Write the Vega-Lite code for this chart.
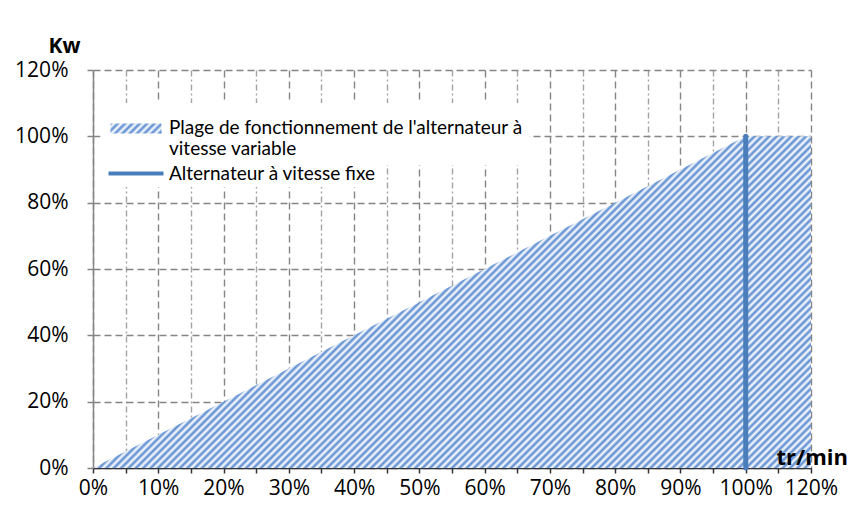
{
  "$schema": "https://vega.github.io/schema/vega-lite/v6.json",
  "width": 718,
  "height": 398,
  "autosize": "none",
  "padding": {"left": 93, "top": 70, "right": 38, "bottom": 40},
  "background": "white",
  "config": {"view": {"stroke": null}, "font": "Open Sans"},
  "resolve": {"axis": {"x": "independent"}},
  "datasets": {
    "plage": [
      {"vitesse": "0%", "i": 0, "puissance": 0, "serie": "Plage de fonctionnement de l'alternateur à vitesse variable"},
      {"vitesse": "10%", "i": 1, "puissance": 0.1, "serie": "Plage de fonctionnement de l'alternateur à vitesse variable"},
      {"vitesse": "20%", "i": 2, "puissance": 0.2, "serie": "Plage de fonctionnement de l'alternateur à vitesse variable"},
      {"vitesse": "30%", "i": 3, "puissance": 0.3, "serie": "Plage de fonctionnement de l'alternateur à vitesse variable"},
      {"vitesse": "40%", "i": 4, "puissance": 0.4, "serie": "Plage de fonctionnement de l'alternateur à vitesse variable"},
      {"vitesse": "50%", "i": 5, "puissance": 0.5, "serie": "Plage de fonctionnement de l'alternateur à vitesse variable"},
      {"vitesse": "60%", "i": 6, "puissance": 0.6, "serie": "Plage de fonctionnement de l'alternateur à vitesse variable"},
      {"vitesse": "70%", "i": 7, "puissance": 0.7, "serie": "Plage de fonctionnement de l'alternateur à vitesse variable"},
      {"vitesse": "80%", "i": 8, "puissance": 0.8, "serie": "Plage de fonctionnement de l'alternateur à vitesse variable"},
      {"vitesse": "90%", "i": 9, "puissance": 0.9, "serie": "Plage de fonctionnement de l'alternateur à vitesse variable"},
      {"vitesse": "100%", "i": 10, "puissance": 1.0, "serie": "Plage de fonctionnement de l'alternateur à vitesse variable"},
      {"vitesse": "120%", "i": 11, "puissance": 1.0, "serie": "Plage de fonctionnement de l'alternateur à vitesse variable"}
    ],
    "fixe": [
      {"vitesse": "100%", "i": 10, "bas": 0, "haut": 1.0, "serie": "Alternateur à vitesse fixe"}
    ]
  },
  "layer": [
    {
      "data": {"name": "plage"},
      "mark": {
        "type": "area",
        "opacity": 1,
        "fill": {
          "gradient": "linear", "x1": 0, "y1": 0, "x2": 1.205, "y2": 0.557,
          "stops": [
            {"offset":0,"color":"#5889cf"},{"offset":0.0035,"color":"#fff"},{"offset":0.007,"color":"#5889cf"},{"offset":0.0105,"color":"#fff"},{"offset":0.014,"color":"#5889cf"},{"offset":0.0175,"color":"#fff"},{"offset":0.021,"color":"#5889cf"},{"offset":0.0245,"color":"#fff"},{"offset":0.028,"color":"#5889cf"},{"offset":0.0315,"color":"#fff"},
            {"offset":0.035,"color":"#5889cf"},{"offset":0.0385,"color":"#fff"},{"offset":0.042,"color":"#5889cf"},{"offset":0.0455,"color":"#fff"},{"offset":0.049,"color":"#5889cf"},{"offset":0.0525,"color":"#fff"},{"offset":0.056,"color":"#5889cf"},{"offset":0.0595,"color":"#fff"},{"offset":0.063,"color":"#5889cf"},{"offset":0.0665,"color":"#fff"},
            {"offset":0.07,"color":"#5889cf"},{"offset":0.0735,"color":"#fff"},{"offset":0.077,"color":"#5889cf"},{"offset":0.0805,"color":"#fff"},{"offset":0.084,"color":"#5889cf"},{"offset":0.0875,"color":"#fff"},{"offset":0.091,"color":"#5889cf"},{"offset":0.0945,"color":"#fff"},{"offset":0.098,"color":"#5889cf"},{"offset":0.1015,"color":"#fff"},
            {"offset":0.105,"color":"#5889cf"},{"offset":0.1085,"color":"#fff"},{"offset":0.112,"color":"#5889cf"},{"offset":0.1155,"color":"#fff"},{"offset":0.119,"color":"#5889cf"},{"offset":0.1225,"color":"#fff"},{"offset":0.126,"color":"#5889cf"},{"offset":0.1295,"color":"#fff"},{"offset":0.133,"color":"#5889cf"},{"offset":0.1365,"color":"#fff"},
            {"offset":0.14,"color":"#5889cf"},{"offset":0.1435,"color":"#fff"},{"offset":0.147,"color":"#5889cf"},{"offset":0.1505,"color":"#fff"},{"offset":0.154,"color":"#5889cf"},{"offset":0.1575,"color":"#fff"},{"offset":0.161,"color":"#5889cf"},{"offset":0.1645,"color":"#fff"},{"offset":0.168,"color":"#5889cf"},{"offset":0.1715,"color":"#fff"},
            {"offset":0.175,"color":"#5889cf"},{"offset":0.1785,"color":"#fff"},{"offset":0.182,"color":"#5889cf"},{"offset":0.1855,"color":"#fff"},{"offset":0.189,"color":"#5889cf"},{"offset":0.1925,"color":"#fff"},{"offset":0.196,"color":"#5889cf"},{"offset":0.1995,"color":"#fff"},{"offset":0.203,"color":"#5889cf"},{"offset":0.2065,"color":"#fff"},
            {"offset":0.21,"color":"#5889cf"},{"offset":0.2135,"color":"#fff"},{"offset":0.217,"color":"#5889cf"},{"offset":0.2205,"color":"#fff"},{"offset":0.224,"color":"#5889cf"},{"offset":0.2275,"color":"#fff"},{"offset":0.231,"color":"#5889cf"},{"offset":0.2345,"color":"#fff"},{"offset":0.238,"color":"#5889cf"},{"offset":0.2415,"color":"#fff"},
            {"offset":0.245,"color":"#5889cf"},{"offset":0.2485,"color":"#fff"},{"offset":0.252,"color":"#5889cf"},{"offset":0.2555,"color":"#fff"},{"offset":0.259,"color":"#5889cf"},{"offset":0.2625,"color":"#fff"},{"offset":0.266,"color":"#5889cf"},{"offset":0.2695,"color":"#fff"},{"offset":0.273,"color":"#5889cf"},{"offset":0.2765,"color":"#fff"},
            {"offset":0.28,"color":"#5889cf"},{"offset":0.2835,"color":"#fff"},{"offset":0.287,"color":"#5889cf"},{"offset":0.2905,"color":"#fff"},{"offset":0.294,"color":"#5889cf"},{"offset":0.2975,"color":"#fff"},{"offset":0.301,"color":"#5889cf"},{"offset":0.3045,"color":"#fff"},{"offset":0.308,"color":"#5889cf"},{"offset":0.3115,"color":"#fff"},
            {"offset":0.315,"color":"#5889cf"},{"offset":0.3185,"color":"#fff"},{"offset":0.322,"color":"#5889cf"},{"offset":0.3255,"color":"#fff"},{"offset":0.329,"color":"#5889cf"},{"offset":0.3325,"color":"#fff"},{"offset":0.336,"color":"#5889cf"},{"offset":0.3395,"color":"#fff"},{"offset":0.343,"color":"#5889cf"},{"offset":0.3465,"color":"#fff"},
            {"offset":0.35,"color":"#5889cf"},{"offset":0.3535,"color":"#fff"},{"offset":0.357,"color":"#5889cf"},{"offset":0.3605,"color":"#fff"},{"offset":0.364,"color":"#5889cf"},{"offset":0.3675,"color":"#fff"},{"offset":0.371,"color":"#5889cf"},{"offset":0.3745,"color":"#fff"},{"offset":0.378,"color":"#5889cf"},{"offset":0.3815,"color":"#fff"},
            {"offset":0.385,"color":"#5889cf"},{"offset":0.3885,"color":"#fff"},{"offset":0.392,"color":"#5889cf"},{"offset":0.3955,"color":"#fff"},{"offset":0.399,"color":"#5889cf"},{"offset":0.4025,"color":"#fff"},{"offset":0.406,"color":"#5889cf"},{"offset":0.4095,"color":"#fff"},{"offset":0.413,"color":"#5889cf"},{"offset":0.4165,"color":"#fff"},
            {"offset":0.42,"color":"#5889cf"},{"offset":0.4235,"color":"#fff"},{"offset":0.427,"color":"#5889cf"},{"offset":0.4305,"color":"#fff"},{"offset":0.434,"color":"#5889cf"},{"offset":0.4375,"color":"#fff"},{"offset":0.441,"color":"#5889cf"},{"offset":0.4445,"color":"#fff"},{"offset":0.448,"color":"#5889cf"},{"offset":0.4515,"color":"#fff"},
            {"offset":0.455,"color":"#5889cf"},{"offset":0.4585,"color":"#fff"},{"offset":0.462,"color":"#5889cf"},{"offset":0.4655,"color":"#fff"},{"offset":0.469,"color":"#5889cf"},{"offset":0.4725,"color":"#fff"},{"offset":0.476,"color":"#5889cf"},{"offset":0.4795,"color":"#fff"},{"offset":0.483,"color":"#5889cf"},{"offset":0.4865,"color":"#fff"},
            {"offset":0.49,"color":"#5889cf"},{"offset":0.4935,"color":"#fff"},{"offset":0.497,"color":"#5889cf"},{"offset":0.5005,"color":"#fff"},{"offset":0.504,"color":"#5889cf"},{"offset":0.5075,"color":"#fff"},{"offset":0.511,"color":"#5889cf"},{"offset":0.5145,"color":"#fff"},{"offset":0.518,"color":"#5889cf"},{"offset":0.5215,"color":"#fff"},
            {"offset":0.525,"color":"#5889cf"},{"offset":0.5285,"color":"#fff"},{"offset":0.532,"color":"#5889cf"},{"offset":0.5355,"color":"#fff"},{"offset":0.539,"color":"#5889cf"},{"offset":0.5425,"color":"#fff"},{"offset":0.546,"color":"#5889cf"},{"offset":0.5495,"color":"#fff"},{"offset":0.553,"color":"#5889cf"},{"offset":0.5565,"color":"#fff"},
            {"offset":0.56,"color":"#5889cf"},{"offset":0.5635,"color":"#fff"},{"offset":0.567,"color":"#5889cf"},{"offset":0.5705,"color":"#fff"},{"offset":0.574,"color":"#5889cf"},{"offset":0.5775,"color":"#fff"},{"offset":0.581,"color":"#5889cf"},{"offset":0.5845,"color":"#fff"},{"offset":0.588,"color":"#5889cf"},{"offset":0.5915,"color":"#fff"},
            {"offset":0.595,"color":"#5889cf"},{"offset":0.5985,"color":"#fff"},{"offset":0.602,"color":"#5889cf"},{"offset":0.6055,"color":"#fff"},{"offset":0.609,"color":"#5889cf"},{"offset":0.6125,"color":"#fff"},{"offset":0.616,"color":"#5889cf"},{"offset":0.6195,"color":"#fff"},{"offset":0.623,"color":"#5889cf"},{"offset":0.6265,"color":"#fff"},
            {"offset":0.63,"color":"#5889cf"},{"offset":0.6335,"color":"#fff"},{"offset":0.637,"color":"#5889cf"},{"offset":0.6405,"color":"#fff"},{"offset":0.644,"color":"#5889cf"},{"offset":0.6475,"color":"#fff"},{"offset":0.651,"color":"#5889cf"},{"offset":0.6545,"color":"#fff"},{"offset":0.658,"color":"#5889cf"},{"offset":0.6615,"color":"#fff"},
            {"offset":0.665,"color":"#5889cf"},{"offset":0.6685,"color":"#fff"},{"offset":0.672,"color":"#5889cf"},{"offset":0.6755,"color":"#fff"},{"offset":0.679,"color":"#5889cf"},{"offset":0.6825,"color":"#fff"},{"offset":0.686,"color":"#5889cf"},{"offset":0.6895,"color":"#fff"},{"offset":0.693,"color":"#5889cf"},{"offset":0.6965,"color":"#fff"},
            {"offset":0.7,"color":"#5889cf"},{"offset":0.7035,"color":"#fff"},{"offset":0.707,"color":"#5889cf"},{"offset":0.7105,"color":"#fff"},{"offset":0.714,"color":"#5889cf"},{"offset":0.7175,"color":"#fff"},{"offset":0.721,"color":"#5889cf"},{"offset":0.7245,"color":"#fff"},{"offset":0.728,"color":"#5889cf"},{"offset":0.7315,"color":"#fff"},
            {"offset":0.735,"color":"#5889cf"},{"offset":0.7385,"color":"#fff"},{"offset":0.742,"color":"#5889cf"},{"offset":0.7455,"color":"#fff"},{"offset":0.749,"color":"#5889cf"},{"offset":0.7525,"color":"#fff"},{"offset":0.756,"color":"#5889cf"},{"offset":0.7595,"color":"#fff"},{"offset":0.763,"color":"#5889cf"},{"offset":0.7665,"color":"#fff"},
            {"offset":0.77,"color":"#5889cf"},{"offset":0.7735,"color":"#fff"},{"offset":0.777,"color":"#5889cf"},{"offset":0.7805,"color":"#fff"},{"offset":0.784,"color":"#5889cf"},{"offset":0.7875,"color":"#fff"},{"offset":0.791,"color":"#5889cf"},{"offset":0.7945,"color":"#fff"},{"offset":0.798,"color":"#5889cf"},{"offset":0.8015,"color":"#fff"},
            {"offset":0.805,"color":"#5889cf"},{"offset":0.8085,"color":"#fff"},{"offset":0.812,"color":"#5889cf"},{"offset":0.8155,"color":"#fff"},{"offset":0.819,"color":"#5889cf"},{"offset":0.8225,"color":"#fff"},{"offset":0.826,"color":"#5889cf"},{"offset":0.8295,"color":"#fff"},{"offset":0.833,"color":"#5889cf"},{"offset":0.8365,"color":"#fff"},
            {"offset":0.84,"color":"#5889cf"},{"offset":0.8435,"color":"#fff"},{"offset":0.847,"color":"#5889cf"},{"offset":0.8505,"color":"#fff"},{"offset":0.854,"color":"#5889cf"},{"offset":0.8575,"color":"#fff"},{"offset":0.861,"color":"#5889cf"},{"offset":0.8645,"color":"#fff"},{"offset":0.868,"color":"#5889cf"},{"offset":0.8715,"color":"#fff"},
            {"offset":0.875,"color":"#5889cf"},{"offset":0.8785,"color":"#fff"},{"offset":0.882,"color":"#5889cf"},{"offset":0.8855,"color":"#fff"},{"offset":0.889,"color":"#5889cf"},{"offset":0.8925,"color":"#fff"},{"offset":0.896,"color":"#5889cf"},{"offset":0.8995,"color":"#fff"},{"offset":0.903,"color":"#5889cf"},{"offset":0.9065,"color":"#fff"},
            {"offset":0.91,"color":"#5889cf"},{"offset":0.9135,"color":"#fff"},{"offset":0.917,"color":"#5889cf"},{"offset":0.9205,"color":"#fff"},{"offset":0.924,"color":"#5889cf"},{"offset":0.9275,"color":"#fff"},{"offset":0.931,"color":"#5889cf"},{"offset":0.9345,"color":"#fff"},{"offset":0.938,"color":"#5889cf"},{"offset":0.9415,"color":"#fff"},
            {"offset":0.945,"color":"#5889cf"},{"offset":0.9485,"color":"#fff"},{"offset":0.952,"color":"#5889cf"},{"offset":0.9555,"color":"#fff"},{"offset":0.959,"color":"#5889cf"},{"offset":0.9625,"color":"#fff"},{"offset":0.966,"color":"#5889cf"},{"offset":0.9695,"color":"#fff"},{"offset":0.973,"color":"#5889cf"},{"offset":0.9765,"color":"#fff"},
            {"offset":0.98,"color":"#5889cf"},{"offset":0.9835,"color":"#fff"},{"offset":0.987,"color":"#5889cf"},{"offset":0.9905,"color":"#fff"},{"offset":0.994,"color":"#5889cf"},{"offset":0.9975,"color":"#fff"}
          ]
        }
      },
      "encoding": {
        "x": {
          "field": "i",
          "type": "quantitative",
          "scale": {"domain": [0, 11], "nice": false, "zero": false},
          "axis": {
            "orient": "bottom",
            "tickCount": 22,
            "labelExpr": "datum.value % 1 != 0 ? '' : (datum.value == 11 ? '120%' : (datum.value * 10) + '%')",
            "labelOverlap": false,
            "labelFlush": false,
            "labelFont": "Open Sans",
            "labelFontSize": 21,
            "labelColor": "#000",
            "labelPadding": 4,
            "labelBaseline": "top",
            "domainColor": "#333",
            "domainWidth": 1.5,
            "tickColor": "#333",
            "tickWidth": 1.5,
            "tickSize": 5,
            "grid": true,
            "gridColor": {"condition": {"test": "datum.value % 1 != 0", "value": "#a3a3a3"}, "value": "#858585"},
            "gridDash": {"condition": {"test": "datum.value % 1 != 0", "value": [6, 3, 2, 3]}, "value": [7, 4]},
            "gridWidth": 1.4,
            "title": null
          }
        },
        "y": {
          "field": "puissance",
          "type": "quantitative",
          "scale": {"domain": [0, 1.2], "nice": false},
          "axis": {
            "values": [0, 0.2, 0.4, 0.6, 0.8, 1.0, 1.2],
            "format": ".0%",
            "labelFont": "Open Sans",
            "labelFontSize": 21,
            "labelColor": "#000",
            "labelPadding": 19,
            "domainColor": "#858585",
            "domainWidth": 1.5,
            "tickColor": "#858585",
            "tickWidth": 1.5,
            "tickSize": 6,
            "grid": true,
            "gridColor": "#858585",
            "gridDash": [7, 4],
            "gridWidth": 1.4,
            "title": "Kw",
            "titleFont": "Open Sans",
            "titleFontSize": 21,
            "titleFontWeight": "bold",
            "titleColor": "#000",
            "titleAngle": 0,
            "titleAlign": "center",
            "titleBaseline": "alphabetic",
            "titleX": -29,
            "titleY": -18
          }
        }
      }
    },
    {
      "data": {"name": "plage"},
      "mark": {
        "type": "point",
        "filled": true,
        "opacity": 0,
        "fill": {"gradient": "linear", "x1": 0, "y1": 0, "x2": 1.152, "y2": 0.226, "stops": [
          {"offset":0,"color":"#5889cf"},{"offset":0.06,"color":"#fff"},{"offset":0.12,"color":"#5889cf"},{"offset":0.18,"color":"#fff"},{"offset":0.24,"color":"#5889cf"},{"offset":0.3,"color":"#fff"},{"offset":0.36,"color":"#5889cf"},{"offset":0.42,"color":"#fff"},{"offset":0.48,"color":"#5889cf"},{"offset":0.54,"color":"#fff"},{"offset":0.6,"color":"#5889cf"},{"offset":0.66,"color":"#fff"},{"offset":0.72,"color":"#5889cf"},{"offset":0.78,"color":"#fff"},{"offset":0.84,"color":"#5889cf"},{"offset":0.9,"color":"#fff"},{"offset":0.96,"color":"#5889cf"}
        ]}
      },
      "encoding": {
        "x": {"field": "i", "type": "quantitative", "axis": null},
        "y": {"field": "puissance", "type": "quantitative"},
        "shape": {
          "field": "serie",
          "type": "nominal",
          "scale": {"range": ["M-5.1,1H5.1V3H-5.1Z"]},
          "legend": {
            "orient": "none",
            "legendX": 7.5,
            "legendY": 33,
            "title": null,
            "fillColor": "white",
            "padding": 6,
            "symbolSize": 100,
            "symbolOpacity": 1,
            "symbolStrokeWidth": 0,
            "symbolOffset": 20,
            "labelOffset": 23.5,
            "labelFont": "Lato",
            "labelFontSize": 19,
            "labelColor": "#000",
            "labelLimit": 0,
            "labelBaseline": "top",
            "labelExpr": "[\"Plage de fonctionnement de l'alternateur à\", 'vitesse variable']",
            "encode": {
              "labels": {
                "lineHeight": {"value": 22}
              }
            }
          }
        }
      }
    },
    {
      "data": {"name": "fixe"},
      "mark": {"type": "rule", "strokeWidth": 5, "strokeCap": "round"},
      "encoding": {
        "x": {
          "field": "i",
          "type": "quantitative",
          "axis": {
            "orient": "bottom",
            "zindex": 2,
            "labels": false,
            "ticks": false,
            "domain": false,
            "grid": false,
            "title": "tr/min",
            "titleFont": "Open Sans",
            "titleFontSize": 22,
            "titleFontWeight": "bold",
            "titleColor": "#000",
            "titleAngle": 0,
            "titleAlign": "left",
            "titleBaseline": "alphabetic",
            "titleX": 683,
            "titleY": -4
          }
        },
        "y": {"field": "bas", "type": "quantitative"},
        "y2": {"field": "haut"},
        "color": {
          "field": "serie",
          "type": "nominal",
          "scale": {"range": ["#4a7ebb"]},
          "legend": {
            "orient": "none",
            "legendX": 10.5,
            "legendY": 91,
            "title": null,
            "fillColor": "white",
            "padding": 3,
            "symbolType": "M-5.5,-0.4H5.5V0.4H-5.5Z",
            "symbolSize": 100,
            "symbolFillColor": "#4a7ebb",
            "symbolStrokeWidth": 0,
            "symbolOffset": 20,
            "labelOffset": 23.5,
            "labelFont": "Lato",
            "labelFontSize": 19,
            "labelColor": "#000",
            "labelLimit": 0
          }
        }
      }
    }
  ]
}
